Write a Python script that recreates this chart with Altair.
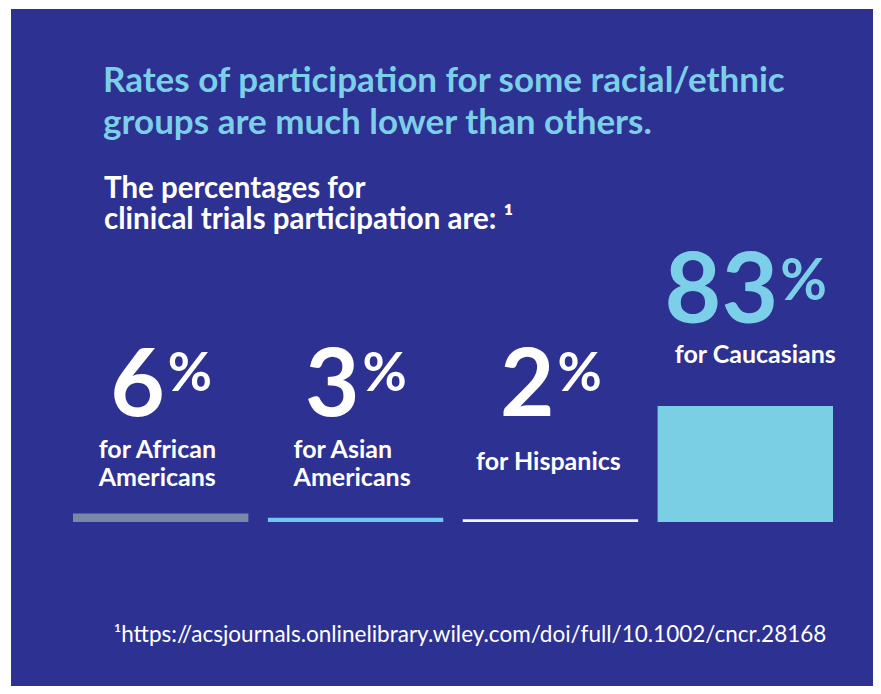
import altair as alt
import pandas as pd

# ---- data ----
groups = ["African Americans", "Asian Americans", "Hispanics", "Caucasians"]
values = [6, 3, 2, 83]
numbers = ["6", "3", "2", "83"]
labels = ["for African\nAmericans", "for Asian\nAmericans", "for Hispanics", "for Caucasians"]
title_lines = "Rates of participation for some racial/ethnic\ngroups are much lower than others."
subtitle_lines = "The percentages for\nclinical trials participation are: \u00b9"
footnote = "\u00b9https://acsjournals.onlinelibrary.wiley.com/doi/full/10.1002/cncr.28168"

bar_colors = ["#7B87A6", "#71C7F0", "#F4F4F8", "#7BCFE4"]
BG = "#2D3191"
LIGHT = "#7CCFE8"
FONT = "Lato"

W, H = 862, 677

df = pd.DataFrame({"group": groups, "value": values, "num": numbers, "label": labels})

xs = alt.X("group:N", sort=groups, axis=None,
           scale=alt.Scale(domain=groups, range=[62, 822], paddingInner=0.1, paddingOuter=0))
ysc = alt.Scale(domain=[-123.1, 367.1], range=[685, 0])

base = alt.Chart(df)

bars = base.mark_bar(cornerRadius=0).encode(
    x=xs,
    y=alt.Y("value:Q", scale=ysc, axis=None),
    y2=alt.datum(0),
    color=alt.Color("group:N", scale=alt.Scale(domain=groups, range=bar_colors), legend=None),
)

small = base.transform_filter("datum.value < 10")
big = base.transform_filter("datum.value >= 10")

small_num = small.mark_text(font=FONT, fontWeight="bold", fontSize=94, color="white",
                            align="right", baseline="alphabetic", dx=4).encode(
    x=xs, y=alt.value(407), text="num:N")
small_pct = small.mark_text(font=FONT, fontWeight="bold", fontSize=54, color="white",
                            align="left", baseline="alphabetic", dx=7).encode(
    x=xs, y=alt.value(382), text=alt.value("%"))
big_num = big.mark_text(font=FONT, fontWeight="bold", fontSize=98, color=LIGHT,
                        align="right", baseline="alphabetic", dx=33).encode(
    x=xs, y=alt.value(314), text="num:N")
big_pct = big.mark_text(font=FONT, fontWeight="bold", fontSize=57, color=LIGHT,
                        align="left", baseline="alphabetic", dx=35).encode(
    x=xs, y=alt.value(291), text=alt.value("%"))

two_line = base.transform_filter("indexof(datum.label, '\\n') >= 0").mark_text(
    font=FONT, fontWeight="bold", fontSize=25, color="white", align="left",
    baseline="alphabetic", lineBreak="\n", lineHeight=28, dx=-62).encode(
    x=xs, y=alt.value(449), text="label:N")
hisp = base.transform_filter("datum.group == 'Hispanics'").mark_text(
    font=FONT, fontWeight="bold", fontSize=25, color="white", align="center",
    baseline="alphabetic", dx=-2).encode(x=xs, y=alt.value(461), text="label:N")
cauc = big.mark_text(
    font=FONT, fontWeight="bold", fontSize=25, color="white", align="center",
    baseline="alphabetic", dx=10).encode(x=xs, y=alt.value(354), text="label:N")

tdf = pd.DataFrame({"title": [title_lines], "sub": [subtitle_lines], "foot": [footnote]})
tbase = alt.Chart(tdf)
title = tbase.mark_text(font=FONT, fontWeight="bold", fontSize=35, color=LIGHT, align="left",
                        baseline="alphabetic", lineBreak="\n", lineHeight=42).encode(
    x=alt.value(92), y=alt.value(83), text="title:N")
subtitle = tbase.mark_text(font=FONT, fontWeight="bold", fontSize=29.5, color="white", align="left",
                           baseline="alphabetic", lineBreak="\n", lineHeight=31).encode(
    x=alt.value(93), y=alt.value(189), text="sub:N")
foot = tbase.mark_text(font=FONT, fontSize=22.5, color="white", align="center",
                       baseline="alphabetic").encode(
    x=alt.value(459), y=alt.value(633), text="foot:N")

chart = alt.layer(bars, small_num, small_pct, big_num, big_pct, two_line, hisp, cauc,
                  title, subtitle, foot).properties(
    width=W, height=H,
    autosize=alt.AutoSizeParams(type="none"),
    padding={"left": 3, "top": 1, "right": 0, "bottom": 0},
    background="white",
).configure_view(fill=BG, stroke=None)

chart.save("out.html", embed_options={"renderer": "svg", "actions": False})
